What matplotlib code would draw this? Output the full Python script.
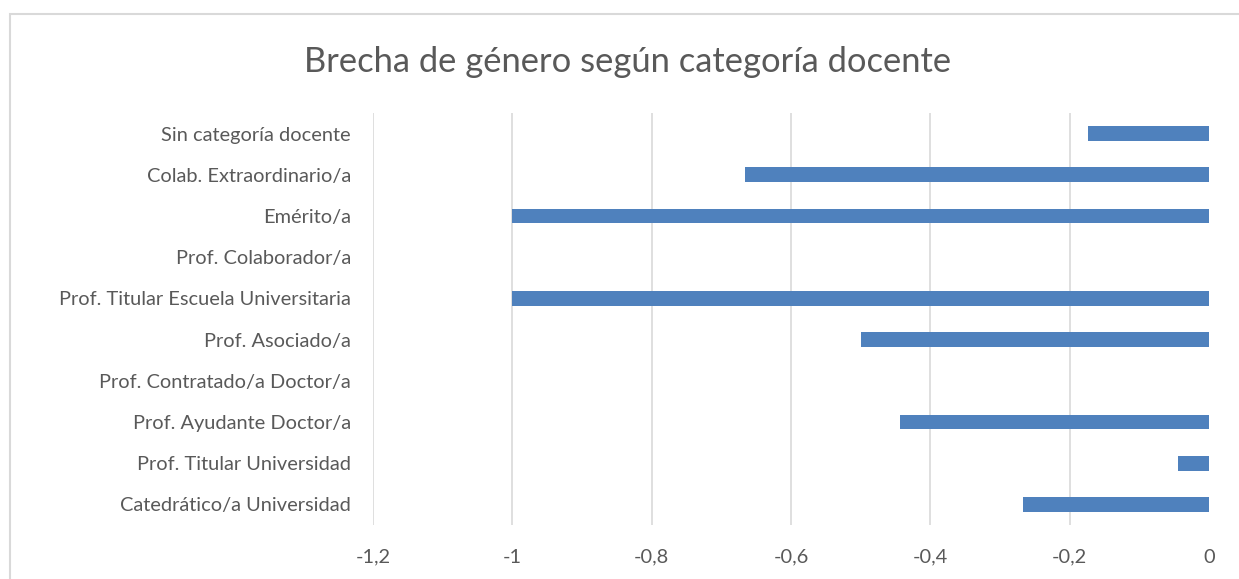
import matplotlib
matplotlib.use("Agg")
import matplotlib.pyplot as plt
from matplotlib.patches import Rectangle

categories = ["Catedrático/a Universidad", "Prof. Titular Universidad", "Prof. Ayudante Doctor/a",
              "Prof. Contratado/a Doctor/a", "Prof. Asociado/a", "Prof. Titular Escuela Universitaria",
              "Prof. Colaborador/a", "Emérito/a", "Colab. Extraordinario/a", "Sin categoría docente"]
values = [-0.267, -0.044, -0.444, 0.0, -0.5, -1.0, 0.0, -1.0, -0.666, -0.174]
xticks = [-1.2, -1.0, -0.8, -0.6, -0.4, -0.2, 0.0]
xticklabels = ["-1,2", "-1", "-0,8", "-0,6", "-0,4", "-0,2", "0"]

plt.rcParams['font.family'] = ['Lato', 'DejaVu Sans']
W, H = 1239, 579
fig = plt.figure(figsize=(W/100, H/100), dpi=100)
fig.patch.set_facecolor('white')
fig.add_artist(Rectangle((10/W, -0.2), 1.5, 1.2 - 14/H, transform=fig.transFigure,
                         fill=False, edgecolor='#D9D9D9', linewidth=1.5))

ax = fig.add_axes([373/W, 1 - 525/H, (1209-373)/W, (525-113)/H])
ax.barh(range(len(categories)), values, height=0.36, color='#4F81BD', zorder=3)
ax.set_xlim(-1.2, 0)
ax.set_ylim(-0.5, len(categories) - 0.5)
ax.set_xticks(xticks)
ax.set_xticklabels(xticklabels)
ax.set_yticks(range(len(categories)))
ax.set_yticklabels(categories)
ax.tick_params(axis='both', length=0, labelsize=14.4, colors='#595959')
ax.tick_params(axis='y', pad=15.8)
ax.tick_params(axis='x', pad=17)
ax.grid(axis='x', color='#D9D9D9', linewidth=1.2, zorder=0)
ax.get_xgridlines()[-1].set_visible(False)
for s in ax.spines.values():
    s.set_visible(False)

fig.text(628/W, 1 - 62/H, "Brecha de género según categoría docente", ha='center', va='center',
         fontsize=24.8, color='#595959')

fig.savefig("out.png", dpi=100)
